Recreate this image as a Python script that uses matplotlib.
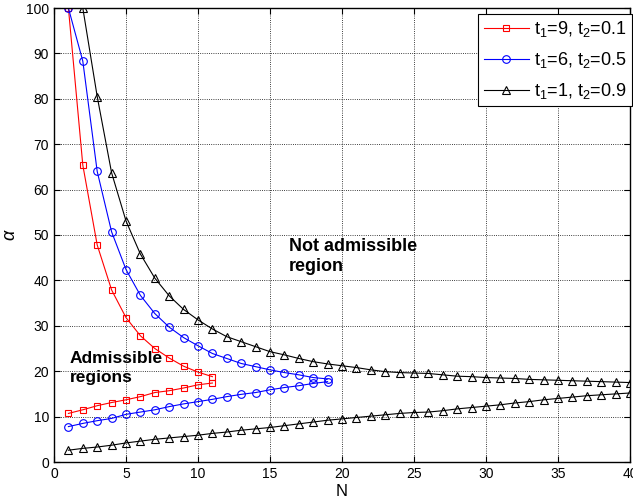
import matplotlib
matplotlib.use('Agg')
import matplotlib.pyplot as plt

plt.rcParams['font.family'] = ['Liberation Sans', 'DejaVu Sans']
plt.rcParams['mathtext.fontset'] = 'custom'
plt.rcParams['mathtext.rm'] = 'Liberation Sans'
plt.rcParams['mathtext.it'] = 'Liberation Sans:italic'

# ── data ──
n_red = list(range(1, 12))
red_up = [100, 65.4, 47.8, 37.9, 31.8, 27.8, 25.0, 22.9, 21.1, 19.8, 18.8]
red_lo = [10.7, 11.5, 12.4, 13.1, 13.7, 14.4, 15.3, 15.7, 16.3, 17.0, 17.4]

n_blue = list(range(1, 20))
blue_up = [100, 88.3, 64.0, 50.7, 42.4, 36.7, 32.7, 29.7, 27.4, 25.6, 23.9,
           22.8, 21.7, 21.0, 20.3, 19.7, 19.2, 18.6, 18.3]
blue_lo = [7.8, 8.5, 9.1, 9.6, 10.5, 11.0, 11.5, 12.2, 12.8, 13.3, 13.8,
           14.4, 14.9, 15.3, 15.9, 16.4, 16.8, 17.3, 17.7]

n_blk_up = list(range(2, 41))
blk_up = [100, 80.5, 63.7, 53.1, 45.8, 40.5, 36.6, 33.6, 31.3, 29.3, 27.6,
          26.5, 25.4, 24.3, 23.6, 22.8, 22.1, 21.6, 21.2, 20.8, 20.3, 19.9,
          19.7, 19.6, 19.5, 19.2, 18.9, 18.8, 18.6, 18.5, 18.4, 18.2, 18.1,
          18.0, 17.9, 17.8, 17.7, 17.6, 17.5]
n_blk_lo = list(range(1, 41))
blk_lo = [2.6, 3.0, 3.3, 3.7, 4.2, 4.6, 5.0, 5.3, 5.6, 5.9, 6.3, 6.6, 7.0,
          7.3, 7.6, 8.0, 8.4, 8.8, 9.2, 9.5, 9.8, 10.1, 10.4, 10.7, 10.9,
          11.0, 11.3, 11.7, 12.0, 12.3, 12.6, 13.0, 13.3, 13.7, 14.0, 14.3,
          14.6, 14.8, 15.0, 15.2]

labels = [r'$\mathregular{t_1}$=9, $\mathregular{t_2}$=0.1',
          r'$\mathregular{t_1}$=6, $\mathregular{t_2}$=0.5',
          r'$\mathregular{t_1}$=1, $\mathregular{t_2}$=0.9']

fig = plt.figure(figsize=(6.33, 5.03), dpi=100)
ax = fig.add_axes([54 / 633, 41 / 503, 576 / 633, 454 / 503])

kw = dict(linewidth=0.8, markerfacecolor='none', markeredgewidth=0.8)
ax.plot(n_red, red_up, '-s', color='red', markersize=4.5, label=labels[0], **kw)
ax.plot(n_red, red_lo, '-s', color='red', markersize=4.5, **kw)
ax.plot(n_blue, blue_up, '-o', color='blue', markersize=5.5, label=labels[1], **kw)
ax.plot(n_blue, blue_lo, '-o', color='blue', markersize=5.5, **kw)
ax.plot(n_blk_up, blk_up, '-^', color='black', markersize=6, label=labels[2], **kw)
ax.plot(n_blk_lo, blk_lo, '-^', color='black', markersize=6, **kw)

ax.set_xlim(0, 40)
ax.set_ylim(0, 100)
ax.set_xticks(range(0, 41, 5))
ax.set_yticks(range(0, 101, 10))
ax.tick_params(direction='in', labelsize=10, length=4, top=True, right=True)
ax.grid(True, linestyle=':', color='black', linewidth=0.6)
for s in ax.spines.values():
    s.set_linewidth(1.0)

ax.set_xlabel('N', fontsize=12, labelpad=2)
ax.set_ylabel(r'$\alpha$', fontsize=13, labelpad=5)

ax.text(16.3, 45.2, 'Not admissible\nregion', fontsize=13, fontweight='bold',
        va='center', ha='left', linespacing=1.25)
ax.text(1.1, 20.7, 'Admissible\nregions', fontsize=12.5, fontweight='bold',
        va='center', ha='left', linespacing=1.3)

leg = ax.legend(loc='upper right', bbox_to_anchor=(1.004, 0.987), fontsize=13,
                fancybox=False, framealpha=1, edgecolor='black',
                borderaxespad=0.0, handlelength=2.5, labelspacing=0.6,
                handletextpad=0.3, borderpad=0.3)
leg.get_frame().set_linewidth(0.8)

fig.savefig('out.png', dpi=100)
